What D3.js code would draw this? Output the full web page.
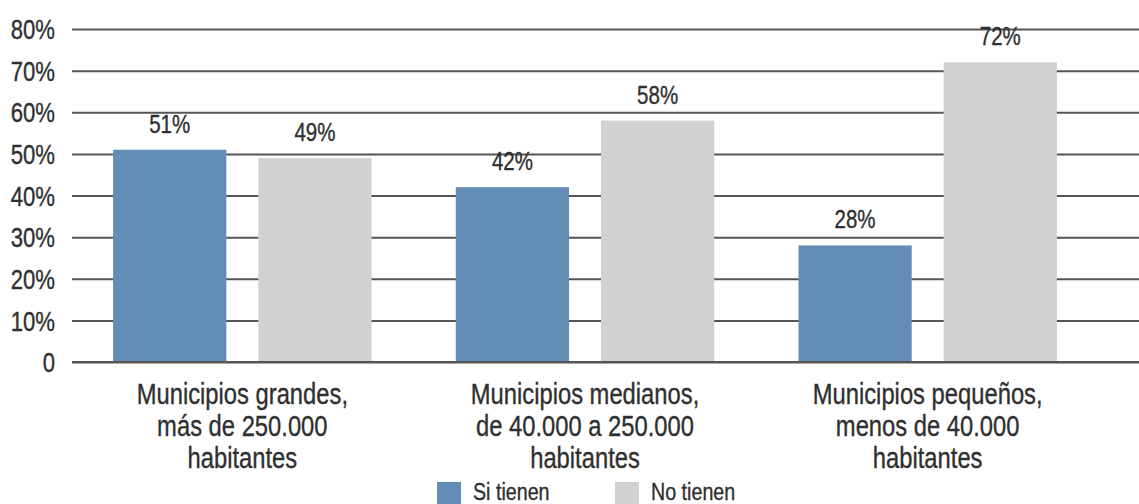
<!DOCTYPE html>
<html>
<head>
<meta charset="utf-8">
<script src="https://cdn.jsdelivr.net/npm/d3@7"></script>
<style>
  html, body { margin: 0; padding: 0; background: #fff; }
  svg { display: block; }
  text { font-family: "Liberation Sans", Arial, sans-serif; fill: #2f2f2f; stroke: #2f2f2f; stroke-width: 0.35px; }
</style>
</head>
<body>
<svg id="chart" width="1139" height="504"></svg>
<script>
const categories = [
  ["Municipios grandes,", "más de 250.000", "habitantes"],
  ["Municipios medianos,", "de 40.000 a 250.000", "habitantes"],
  ["Municipios pequeños,", "menos de 40.000", "habitantes"]
];
const seriesNames = ["Si tienen", "No tienen"];
const siTienen = [51, 42, 28];
const noTienen = [49, 58, 72];
const yTicks = [0, 10, 20, 30, 40, 50, 60, 70, 80];
const yTickLabels = ["0", "10%", "20%", "30%", "40%", "50%", "60%", "70%", "80%"];
const colors = ["#648db6", "#d0d1d3"];

const NARROW = 0.82; // condensed look
const svg = d3.select("#chart");
const gridLeft = 72, gridRight = 1139;
const y = d3.scaleLinear().domain([0, 80]).range([362, 29]);
const x0 = d3.scaleBand().domain(d3.range(categories.length)).range([71, 1099]).paddingInner(0).paddingOuter(0);
const x1 = d3.scaleBand().domain([0, 1]).range([0, x0.bandwidth()]).paddingInner(0.22).paddingOuter(0.29);

function narrowText(sel, x, y) {
  sel.attr("transform", (d, i, n) => `translate(${typeof x === "function" ? x(d, i, n) : x},${typeof y === "function" ? y(d, i, n) : y}) scale(${NARROW},1)`);
}

// gridlines via axis
const yAxis = d3.axisLeft(y).tickValues(yTicks).tickFormat((d, i) => yTickLabels[i])
  .tickSize(-(gridRight - gridLeft)).tickPadding(17);
const gy = svg.append("g").attr("transform", `translate(${gridLeft},0)`).call(yAxis);
gy.select(".domain").remove();
gy.selectAll(".tick line").attr("stroke", "#555").attr("stroke-width", 2);
gy.selectAll(".tick text")
  .style("font-size", "27px").attr("fill", "#2f2f2f")
  .attr("x", null).attr("dy", "0.36em")
  .attr("transform", `translate(-17,0) scale(${NARROW},1)`);

const data = categories.map((c, i) => ({ i, vals: [siTienen[i], noTienen[i]] }));
const groups = svg.append("g").selectAll("g").data(data).join("g")
  .attr("transform", d => `translate(${x0(d.i)},0)`);

groups.selectAll("rect").data(d => d.vals.map((v, k) => ({ v, k }))).join("rect")
  .attr("x", d => x1(d.k))
  .attr("y", d => y(d.v))
  .attr("width", x1.bandwidth())
  .attr("height", d => y(0) - y(d.v))
  .attr("fill", d => colors[d.k]);

groups.selectAll("text.val").data(d => d.vals.map((v, k) => ({ v, k }))).join("text")
  .attr("class", "val")
  .attr("text-anchor", "middle")
  .style("font-size", "25px")
  .call(narrowText, d => x1(d.k) + x1.bandwidth() / 2, d => y(d.v) - 17)
  .text(d => d.v + "%");

// baseline redraw over bars
svg.append("line").attr("x1", gridLeft).attr("x2", gridRight).attr("y1", y(0)).attr("y2", y(0))
  .attr("stroke", "#555").attr("stroke-width", 2);

// category labels
const lab = svg.append("g").selectAll("text").data(categories).join("text")
  .attr("text-anchor", "middle")
  .style("font-size", "29px")
  .call(narrowText, (d, i) => x0(i) + x0.bandwidth() / 2, 404);
lab.selectAll("tspan").data(d => d).join("tspan")
  .attr("x", 0)
  .attr("dy", (d, i) => i === 0 ? 0 : 32)
  .text(d => d);

// legend
const legX = [437, 615];
const leg = svg.append("g").selectAll("g").data(seriesNames).join("g")
  .attr("transform", (d, i) => `translate(${legX[i]},482)`);
leg.append("rect").attr("width", 24).attr("height", 24).attr("fill", (d, i) => colors[i]);
leg.append("text").style("font-size", "24px").call(narrowText, 36, 18).text(d => d);
</script>
</body>
</html>
